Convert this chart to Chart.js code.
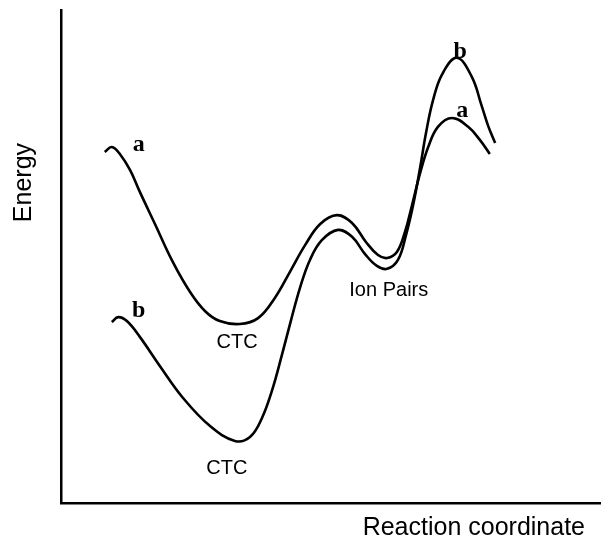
<!DOCTYPE html>
<html>
<head>
<meta charset="utf-8">
<script src="https://cdn.jsdelivr.net/npm/chart.js@4.4.1/dist/chart.umd.min.js"></script>
<style>
  html, body { margin: 0; padding: 0; background: #fff; }
  #wrap { width: 601px; height: 541px; position: relative; }
</style>
</head>
<body>
<div id="wrap"><canvas id="chart"></canvas></div>
<script>
// Reaction coordinate (arbitrary units, 0-100) and energy (arbitrary units, 0-100)
const curveAX = [8.1, 9.4, 10.9, 12.8, 14.6, 17.4, 20.7, 23.9, 26.7, 29.4, 33.1, 36.5, 39.6, 42.4, 45.2,
    48.0, 51.1, 53.9, 56.5, 58.7, 60.4, 62.2, 63.7, 65.0, 66.5, 68.0, 69.8, 72.4, 75.4, 77.6, 79.4];
const curveAY = [71.2, 72.2, 70.8, 67.5, 63.1, 56.6, 48.9, 42.8, 38.9, 36.9, 36.3, 37.5, 41.6, 46.9, 52.3,
    56.6, 58.4, 56.8, 52.9, 50.3, 49.7, 50.9, 55.0, 60.4, 66.9, 72.2, 76.3, 78.1, 76.3, 73.6, 70.8];

const curveBX = [9.4, 10.6, 12.2, 14.6, 18.3, 22.6, 27.6, 32.2, 35.0, 37.2, 39.1, 40.9, 42.6, 44.3, 46.1,
    48.3, 51.3, 53.9, 56.3, 58.5, 60.4, 62.4, 63.9, 65.2, 66.5, 67.6, 68.9, 70.6, 73.3, 76.1, 77.8, 79.1, 80.4];
const curveBY = [36.7, 37.7, 36.9, 33.7, 27.8, 21.3, 15.6, 12.6, 13.4, 17.2, 22.9, 30.0, 37.1, 43.8, 49.3,
    53.3, 55.4, 54.0, 50.5, 48.1, 47.5, 49.3, 54.4, 60.4, 68.0, 75.1, 81.7, 87.0, 90.3, 86.4, 80.9, 76.5, 73.0];

// Text labels placed in data coordinates
const labelText = ['a', 'b', 'b', 'a', 'CTC', 'CTC', 'Ion Pairs'];
const labelX = [14.4, 14.4, 73.9, 74.3, 32.6, 30.7, 60.7];
const labelY = [72.6, 38.9, 91.5, 79.5, 32.5, 7.1, 43.2];
const labelSerif = [true, true, true, true, false, false, false];

const xTitle = 'Reaction coordinate';
const yTitle = 'Energy';

const toPoints = (xs, ys) => xs.map((x, i) => ({ x, y: ys[i] }));

const textPlugin = {
    id: 'curveText',
    afterDatasetsDraw(chart) {
        const { ctx, scales, chartArea } = chart;
        ctx.save();
        ctx.fillStyle = '#000';
        ctx.textAlign = 'center';
        ctx.textBaseline = 'middle';
        labelText.forEach((t, i) => {
            ctx.font = labelSerif[i] ? 'bold 24px "Liberation Serif"' : '20px "Liberation Sans"';
            ctx.fillText(t, scales.x.getPixelForValue(labelX[i]), scales.y.getPixelForValue(labelY[i]));
        });

        // axis titles
        ctx.font = '25px "Liberation Sans"';
        ctx.textAlign = 'right';
        ctx.fillText(xTitle, chartArea.right - 16, chartArea.bottom + 25);

        ctx.translate(chartArea.left - 37, chartArea.top + (chartArea.bottom - chartArea.top) * 0.35);
        ctx.rotate(-Math.PI / 2);
        ctx.textAlign = 'center';
        ctx.fillText(yTitle, 0, 0);
        ctx.restore();
    }
};

const lineStyle = {
    borderColor: '#000',
    borderWidth: 2.6,
    pointRadius: 0,
    showLine: true,
    fill: false,
    tension: 0.4
};

new Chart(document.getElementById('chart').getContext('2d'), {
    type: 'scatter',
    data: {
        datasets: [
            { label: 'a', data: toPoints(curveAX, curveAY), ...lineStyle },
            { label: 'b', data: toPoints(curveBX, curveBY), ...lineStyle }
        ]
    },
    options: {
        responsive: true, maintainAspectRatio: false, animation: false,
        layout: { padding: { left: 61, top: 10, right: 0, bottom: 38 } },
        plugins: { legend: { display: false }, tooltip: { enabled: false } },
        scales: {
            x: {
                type: 'linear', min: 0, max: 100,
                ticks: { display: false },
                grid: { display: false, drawTicks: false },
                border: { display: true, color: '#000', width: 2.5 }
            },
            y: {
                type: 'linear', min: 0, max: 100,
                ticks: { display: false },
                grid: { display: false, drawTicks: false },
                border: { display: true, color: '#000', width: 2.5 }
            }
        }
    },
    plugins: [textPlugin]
});
</script>
</body>
</html>
